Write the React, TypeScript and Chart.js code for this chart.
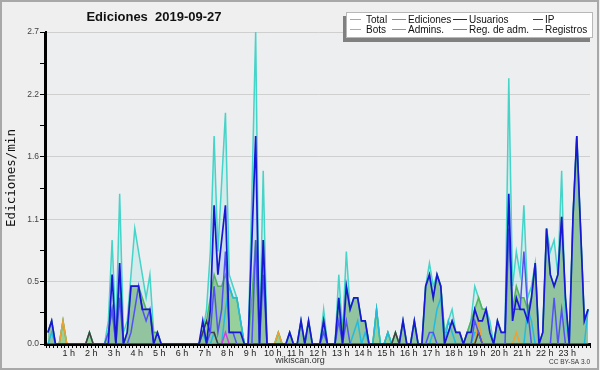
import React, { useEffect, useRef } from 'react';
import { Chart, registerables } from 'chart.js';

Chart.register(...registerables);

// one value per 10-minute slot (edits per minute), 144 slots = 24 h
const totalValues = [
  0.1, 0.2, 0, 0, 0.2, 0,
  0, 0, 0, 0, 0, 0.1,
  0, 0, 0, 0, 0.2, 0.9,
  0.1, 1.3, 0.1, 0.2, 0.6, 1.0,
  0.8, 0.6, 0.4, 0.6, 0.1, 0.1,
  0, 0, 0, 0, 0, 0,
  0, 0, 0, 0, 0, 0.1,
  0.3, 0.8, 1.8, 0.8, 1.4, 2.0,
  0.6, 0.5, 0.4, 0.2, 0, 0,
  1.3, 2.7, 0, 1.5, 0, 0,
  0, 0.1, 0, 0, 0.1, 0,
  0, 0.2, 0, 0.2, 0, 0,
  0, 0.3, 0, 0, 0, 0.6,
  0.1, 0.8, 0.3, 0.4, 0.4, 0.2,
  0.2, 0, 0, 0.3, 0, 0,
  0.1, 0, 0.1, 0, 0.2, 0,
  0, 0.2, 0, 0, 0.5, 0.7,
  0.5, 0.6, 0.5, 0.1, 0.2, 0.3,
  0.1, 0.1, 0, 0.1, 0.2, 0.5,
  0.4, 0.3, 0.3, 0.2, 0, 0.2,
  0.1, 0.1, 2.3, 0.5, 0.8, 0.6,
  1.2, 0.4, 0.5, 0.7, 0, 0.1,
  1.0, 0.8, 0.9, 0.6, 1.5, 0.2,
  0, 1.1, 1.8, 1.0, 0.2, 0.3,
];

const edicionesValues = [
  0.1, 0.2, 0, 0, 0.2, 0,
  0, 0, 0, 0, 0, 0.1,
  0, 0, 0, 0, 0.1, 0.3,
  0, 0.6, 0, 0.1, 0.5, 0.5,
  0.5, 0.4, 0.3, 0.3, 0.1, 0.1,
  0, 0, 0, 0, 0, 0,
  0, 0, 0, 0, 0, 0.1,
  0.2, 0.4, 0.6, 0.5, 0.5, 0.6,
  0.5, 0.4, 0.4, 0.2, 0, 0,
  0.4, 0.9, 0, 0.9, 0, 0,
  0, 0.1, 0, 0, 0.1, 0,
  0, 0.2, 0, 0.2, 0, 0,
  0, 0.2, 0, 0, 0, 0.4,
  0.1, 0.5, 0.3, 0.4, 0.4, 0.2,
  0.2, 0, 0, 0.3, 0, 0,
  0.1, 0, 0.1, 0, 0.2, 0,
  0, 0.2, 0, 0, 0.5, 0.6,
  0.4, 0.6, 0.5, 0.1, 0.1, 0.2,
  0.1, 0.1, 0, 0.1, 0.2, 0.3,
  0.4, 0.3, 0.3, 0.1, 0, 0.2,
  0.1, 0.1, 1.0, 0.3, 0.5, 0.4,
  0.4, 0.3, 0.4, 0.7, 0, 0.1,
  1.0, 0.6, 0.5, 0.6, 1.1, 0.4,
  0, 1.1, 1.8, 1.0, 0.2, 0.3,
];

const usuariosValues = [
  0.1, 0.2, 0, 0, 0, 0,
  0, 0, 0, 0, 0, 0,
  0, 0, 0, 0, 0, 0.6,
  0, 0.7, 0, 0.1, 0.5, 0.5,
  0.5, 0.3, 0.3, 0.3, 0, 0.1,
  0, 0, 0, 0, 0, 0,
  0, 0, 0, 0, 0, 0.2,
  0, 0.3, 1.2, 0.6, 0.9, 1.2,
  0.1, 0.1, 0.1, 0.1, 0, 0,
  0.9, 1.8, 0, 0.9, 0, 0,
  0, 0, 0, 0, 0.1, 0,
  0, 0.2, 0, 0.2, 0, 0,
  0, 0.2, 0, 0, 0, 0.4,
  0, 0.5, 0.3, 0.4, 0.4, 0.2,
  0.2, 0, 0, 0, 0, 0,
  0, 0, 0, 0, 0.2, 0,
  0, 0.2, 0, 0, 0.5, 0.6,
  0.4, 0.6, 0.5, 0, 0.1, 0.2,
  0.1, 0.1, 0, 0.1, 0.1, 0.3,
  0.2, 0.2, 0.3, 0.1, 0, 0.2,
  0.1, 0.1, 1.3, 0.2, 0.4, 0.3,
  0.3, 0.2, 0.4, 0.7, 0, 0.1,
  1.0, 0.6, 0.5, 0.6, 1.1, 0.4,
  0, 1.1, 1.8, 1.0, 0.2, 0.3,
];

const ipValues = [
  0, 0, 0, 0, 0, 0,
  0, 0, 0, 0, 0, 0.1,
  0, 0, 0, 0, 0, 0,
  0, 0, 0, 0, 0, 0,
  0, 0, 0, 0, 0, 0,
  0, 0, 0, 0, 0, 0,
  0, 0, 0, 0, 0, 0.1,
  0.2, 0.1, 0.1, 0, 0, 0,
  0, 0, 0, 0, 0, 0,
  0, 0, 0, 0, 0, 0,
  0, 0, 0, 0, 0, 0,
  0, 0, 0, 0, 0, 0,
  0, 0, 0, 0, 0, 0,
  0, 0, 0, 0, 0, 0,
  0, 0, 0, 0, 0, 0,
  0, 0, 0.1, 0, 0, 0,
  0, 0, 0, 0, 0, 0,
  0, 0, 0, 0, 0, 0,
  0, 0, 0, 0, 0, 0,
  0.1, 0, 0, 0, 0, 0,
  0, 0, 0, 0, 0, 0,
  0, 0, 0, 0, 0, 0,
  0, 0, 0, 0, 0, 0,
  0, 0, 0, 0, 0, 0,
];

const botsValues = [
  0, 0, 0, 0, 0.2, 0,
  0, 0, 0, 0, 0, 0,
  0, 0, 0, 0, 0, 0,
  0, 0, 0, 0, 0, 0,
  0, 0, 0, 0, 0, 0,
  0, 0, 0, 0, 0, 0,
  0, 0, 0, 0, 0, 0,
  0, 0, 0, 0, 0, 0,
  0, 0, 0, 0, 0, 0,
  0, 0, 0, 0, 0, 0,
  0, 0.1, 0, 0, 0, 0,
  0, 0, 0, 0, 0, 0,
  0, 0, 0, 0, 0, 0,
  0, 0, 0, 0, 0, 0,
  0, 0, 0, 0, 0, 0,
  0, 0, 0, 0, 0, 0,
  0, 0, 0, 0, 0, 0,
  0, 0, 0, 0, 0, 0,
  0, 0, 0, 0, 0, 0,
  0.2, 0, 0, 0, 0, 0,
  0, 0, 0, 0, 0.1, 0,
  0, 0, 0, 0, 0, 0,
  0, 0, 0, 0, 0, 0,
  0, 0, 0, 0, 0, 0,
];

const adminsValues = [
  0, 0.1, 0, 0, 0, 0,
  0, 0, 0, 0, 0, 0,
  0, 0, 0, 0, 0, 0,
  0, 0, 0, 0, 0, 0,
  0, 0, 0, 0, 0, 0,
  0, 0, 0, 0, 0, 0,
  0, 0, 0, 0, 0, 0.1,
  0, 0, 0.1, 0, 0, 0.3,
  0.5, 0.4, 0.4, 0.2, 0, 0,
  0, 0, 0, 0, 0, 0,
  0, 0, 0, 0, 0, 0,
  0, 0, 0, 0, 0, 0,
  0, 0.1, 0, 0, 0, 0,
  0, 0, 0, 0.1, 0.2, 0,
  0.1, 0, 0, 0.3, 0, 0,
  0.1, 0, 0, 0, 0, 0,
  0, 0, 0, 0, 0, 0,
  0.1, 0.3, 0.4, 0, 0.2, 0.1,
  0, 0, 0, 0, 0, 0.1,
  0.1, 0, 0, 0, 0, 0,
  0, 0, 0, 0, 0, 0,
  0, 0.3, 0.2, 0, 0, 0,
  0, 0, 0, 0, 0, 0,
  0, 0, 0, 0, 0, 0.3,
];

const regAdmValues = [
  0, 0, 0, 0, 0, 0,
  0, 0, 0, 0, 0, 0,
  0, 0, 0, 0, 0, 0,
  0, 0, 0, 0, 0, 0,
  0, 0, 0, 0, 0, 0,
  0, 0, 0, 0, 0, 0,
  0, 0, 0, 0, 0, 0,
  0, 0, 0, 0, 0, 0.1,
  0, 0, 0, 0, 0, 0,
  0, 0, 0, 0, 0, 0,
  0, 0, 0, 0, 0, 0,
  0, 0, 0, 0, 0, 0,
  0, 0, 0, 0, 0, 0,
  0, 0, 0, 0, 0, 0,
  0, 0, 0, 0, 0, 0,
  0, 0, 0, 0, 0, 0,
  0, 0, 0, 0, 0, 0,
  0, 0, 0, 0, 0, 0,
  0, 0, 0, 0, 0, 0,
  0, 0, 0, 0, 0, 0,
  0, 0, 0, 0, 0, 0,
  0, 0, 0, 0, 0, 0,
  0, 0, 0, 0, 0, 0,
  0, 0, 0, 0, 0, 0,
];

const registrosValues = [
  0, 0, 0, 0, 0, 0,
  0, 0, 0, 0, 0, 0,
  0, 0, 0, 0, 0.1, 0.3,
  0, 0.4, 0, 0, 0.1, 0.3,
  0.5, 0.3, 0.2, 0.3, 0, 0,
  0, 0, 0, 0, 0, 0,
  0, 0, 0, 0, 0, 0,
  0, 0.1, 0.5, 0.1, 0.3, 0.8,
  0.1, 0.1, 0, 0, 0, 0,
  0, 0.9, 0, 0.6, 0, 0,
  0, 0, 0, 0, 0, 0,
  0, 0, 0, 0, 0, 0,
  0, 0.1, 0, 0, 0, 0.2,
  0, 0.2, 0, 0, 0, 0,
  0, 0, 0, 0, 0, 0,
  0, 0, 0, 0, 0, 0,
  0, 0, 0, 0, 0, 0.1,
  0.1, 0, 0, 0, 0, 0,
  0, 0, 0, 0, 0, 0.2,
  0.1, 0, 0, 0, 0, 0,
  0, 0, 1.0, 0.3, 0.3, 0.3,
  0.8, 0.3, 0, 0, 0, 0,
  0, 0, 0.4, 0, 0.3, 0,
  0, 0, 0, 0, 0, 0,
];

const hourTickLabels = [
  '1 h', '2 h', '3 h', '4 h', '5 h', '6 h', '7 h', '8 h', '9 h', '10 h', '11 h', '12 h',
  '13 h', '14 h', '15 h', '16 h', '17 h', '18 h', '19 h', '20 h', '21 h', '22 h', '23 h',
];
const yTickLabels = ['0.0', '0.5', '1.1', '1.6', '2.2', '2.7'];

const seriesNames = ['Total', 'Ediciones', 'Usuarios', 'IP', 'Bots', 'Admins.', 'Reg. de adm.', 'Registros'];
const seriesColors = ['#44d4c8', '#52b45c', '#1818d4', '#404040', '#f0a030', '#22bce0', '#cc44dd', '#5252f2'];

const TITLE = 'Ediciones  2019-09-27';
const Y_TITLE = 'Ediciones/min';

const toPoints = (vals: number[]) => vals.map((v, i) => ({ x: i + 0.5, y: v }));

const decor = {
  id: 'decor',
  beforeDraw(chart: any) {
    const { ctx, chartArea: a, width, height } = chart;
    ctx.save();
    ctx.fillStyle = '#efefef';
    ctx.fillRect(0, 0, width, height);
    ctx.fillStyle = '#edeef0';
    ctx.fillRect(a.left, a.top, a.right - a.left, a.bottom - a.top);
    ctx.restore();
  },
  afterDatasetsDraw(chart: any) {
    const { ctx, chartArea: a } = chart;
    ctx.save();
    ctx.strokeStyle = '#000';
    ctx.lineWidth = 2;
    ctx.beginPath();
    ctx.moveTo(a.left - 1, a.top);
    ctx.lineTo(a.left - 1, a.bottom + 1);
    ctx.lineTo(a.right, a.bottom + 1);
    ctx.stroke();
    ctx.restore();
  },
  afterDraw(chart: any) {
    const { ctx, width, height } = chart;
    ctx.save();
    ctx.strokeStyle = '#a8a8a8';
    ctx.lineWidth = 2;
    ctx.strokeRect(1, 1, width - 3, height - 2);

    ctx.fillStyle = '#111';
    ctx.font = 'bold 13px "Liberation Sans", Arial, sans-serif';
    ctx.textAlign = 'center';
    ctx.textBaseline = 'alphabetic';
    ctx.fillText(TITLE, 154, 21);

    ctx.save();
    ctx.translate(15, 178);
    ctx.rotate(-Math.PI / 2);
    ctx.font = '12.5px "DejaVu Sans Mono", monospace';
    ctx.fillStyle = '#111';
    ctx.textAlign = 'center';
    ctx.fillText(Y_TITLE, 0, 0);
    ctx.restore();

    ctx.fillStyle = '#333';
    ctx.font = '9px "Liberation Sans", Arial, sans-serif';
    ctx.textAlign = 'center';
    ctx.fillText('wikiscan.org', 300, 363);
    ctx.font = '6.5px "Liberation Sans", Arial, sans-serif';
    ctx.textAlign = 'right';
    ctx.fillText('CC BY-SA 3.0', 590, 364);

    const bx = 346, by = 12, bw = 247, bh = 26;
    ctx.fillStyle = '#808080';
    ctx.fillRect(bx - 3, by + 4, bw, bh);
    ctx.fillStyle = '#ffffff';
    ctx.fillRect(bx, by, bw, bh);
    ctx.strokeStyle = '#b8b8b8';
    ctx.lineWidth = 1;
    ctx.strokeRect(bx + 0.5, by + 0.5, bw - 1, bh - 1);

    const cols = [
      { l0: 350, l1: 361, tx: 366 },
      { l0: 392, l1: 406, tx: 408 },
      { l0: 453, l1: 467, tx: 469 },
      { l0: 533, l1: 543, tx: 545 },
    ];
    const rows = [{ ly: 19.5, ty: 22.5 }, { ly: 29.5, ty: 32.5 }];
    ctx.font = '10px "Liberation Sans", Arial, sans-serif';
    ctx.textAlign = 'left';
    seriesNames.forEach((name, k) => {
      const c = cols[k % 4];
      const r = rows[Math.floor(k / 4)];
      ctx.strokeStyle = seriesColors[k];
      ctx.lineWidth = 1;
      ctx.beginPath();
      ctx.moveTo(c.l0, r.ly);
      ctx.lineTo(c.l1, r.ly);
      ctx.stroke();
      ctx.fillStyle = '#111';
      ctx.fillText(name, c.tx, r.ty);
    });
    ctx.restore();
  },
};

export default function App() {
  const ref = useRef<HTMLCanvasElement>(null);

  useEffect(() => {
    document.body.style.margin = '0';
    document.body.style.overflow = 'hidden';
    const canvas = ref.current;
    if (!canvas) return;

    const mk = (idx: number, vals: number[], fill: any, bg: string, bw = 1.5) => ({
      label: seriesNames[idx],
      data: toPoints(vals),
      borderColor: seriesColors[idx],
      backgroundColor: bg,
      borderWidth: bw,
      fill,
      pointRadius: 0,
      tension: 0,
    });

    const datasets = [
      mk(2, usuariosValues, 'origin', 'rgba(60,60,210,0.08)', 1.7),
      mk(7, registrosValues, false, 'transparent'),
      mk(3, ipValues, false, 'transparent'),
      mk(6, regAdmValues, false, 'transparent'),
      mk(4, botsValues, false, 'transparent'),
      mk(5, adminsValues, false, 'transparent'),
      mk(1, edicionesValues, 'origin', 'rgba(95,185,85,0.52)'),
      mk(0, totalValues, 'origin', 'rgba(70,210,195,0.14)'),
    ];

    const chart = new Chart(canvas, {
      type: 'line',
      data: { datasets } as any,
      plugins: [decor],
      options: {
        animation: false,
        responsive: false,
        maintainAspectRatio: false,
        layout: { padding: { left: 8, right: 10, top: 32, bottom: 0 } },
        plugins: {
          legend: { display: false },
          tooltip: { enabled: false },
          title: { display: false },
          filler: { drawTime: 'beforeDatasetsDraw' },
        } as any,
        scales: {
          x: {
            type: 'linear',
            min: 0,
            max: 144,
            afterFit: (s: any) => { s.height = 26; },
            ticks: {
              stepSize: 1,
              autoSkip: false,
              maxRotation: 0,
              minRotation: 0,
              padding: 0,
              color: '#222',
              font: { family: '"Liberation Sans", Arial, sans-serif', size: 9 },
              callback: (v: any) => {
                const n = Number(v);
                if (n % 6 === 0 && n > 0 && n < 144) return hourTickLabels[n / 6 - 1];
                return '';
              },
            },
            grid: { drawOnChartArea: false, tickLength: 4, tickColor: '#000', tickWidth: 1 },
            border: { color: '#000', width: 2 },
          },
          y: {
            min: 0,
            max: 2.7,
            afterFit: (s: any) => { s.width = 38; },
            ticks: {
              stepSize: 0.27,
              autoSkip: false,
              padding: 1,
              color: '#444',
              font: { family: '"Liberation Sans", Arial, sans-serif', size: 8.5 },
              callback: (_v: any, i: number) => (i % 2 === 0 ? yTickLabels[i / 2] : ''),
            },
            grid: {
              color: (c: any) => (c.index % 2 === 0 ? '#cfcfcf' : 'rgba(0,0,0,0)'),
              tickColor: '#000',
              tickLength: 6,
              lineWidth: 1,
            },
            border: { color: '#000', width: 2 },
          },
        },
      } as any,
    });

    return () => chart.destroy();
  }, []);

  return (
    <div style={{ width: 600, height: 370 }}>
      <canvas ref={ref} width={600} height={370} style={{ display: 'block' }} />
    </div>
  );
}
